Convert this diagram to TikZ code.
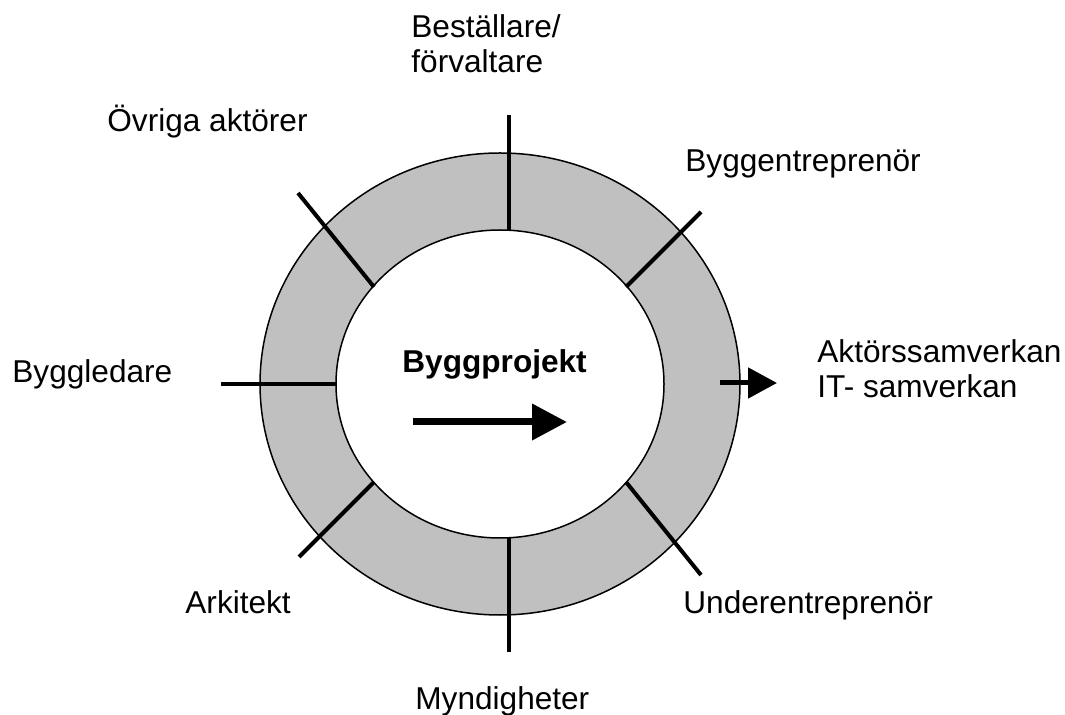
\documentclass[tikz,border=0pt]{standalone}
\usepackage{fontspec}
\setmainfont{Liberation Sans}
\usetikzlibrary{arrows.meta}
\definecolor{ringgray}{RGB}{192,192,192}
\begin{document}
\begin{tikzpicture}[x=0.5pt,y=-0.5pt,
  lbl/.style={inner sep=0pt, anchor=base west, font=\fontsize{15.8}{17.75}\selectfont, align=left},
  divider/.style={line width=2pt},
  ring/.style={fill=ringgray, draw=black, line width=0.75pt, even odd rule},
  bigarrow/.style={line width=3.5pt, -{Triangle[length=17.5pt,width=17.5pt]}},
  smallarrow/.style={line width=2.5pt, -{Triangle[length=14.5pt,width=15pt]}}]
\useasboundingbox (0,0) rectangle (1065,715);

% the ring
\draw[ring] (500,384) ellipse [x radius=240, y radius=231]
            (500,384) ellipse [x radius=164, y radius=154];

% divider end points (inner / outer)
\coordinate (tI) at (509,230);  \coordinate (tO) at (509,115);
\coordinate (bI) at (509,538);  \coordinate (bO) at (509,652);
\coordinate (lI) at (336,384);  \coordinate (lO) at (221,384);
\coordinate (ulI) at (374,287); \coordinate (ulO) at (298,193);
\coordinate (urI) at (626,287); \coordinate (urO) at (701,212);
\coordinate (llI) at (374,482); \coordinate (llO) at (299,557);
\coordinate (lrI) at (626,482); \coordinate (lrO) at (701,575);

\foreach \p in {t,b,l,ul,ur,ll,lr}
  \draw[divider] (\p I) -- (\p O);

% arrows
\coordinate (raS) at (720,383); \coordinate (raE) at (777,383);
\draw[smallarrow] (raS) -- (raE);
\coordinate (caS) at (413,422); \coordinate (caE) at (567,422);
\draw[bigarrow] (caS) -- (caE);

% labels (two-line labels are placed by the baseline of their last line)
\node[lbl] (best) at (411,73) {Beställare/\\förvaltare};
\node[lbl] (ovr)  at (107,132) {Övriga aktörer};
\node[lbl] (bent) at (685,172) {Byggentreprenör};
\node[lbl] (samv) at (817,398) {Aktörssamverkan\\IT- samverkan};
\node[lbl] (bled) at (12,383) {Byggledare};
\node[lbl, font=\fontsize{15.8}{17.75}\selectfont\bfseries] (proj) at (402,373) {Byggprojekt};
\node[lbl] (ark)  at (185,613) {Arkitekt};
\node[lbl] (uent) at (683,613) {Underentreprenör};
\node[lbl] (mynd) at (415,709) {Myndigheter};
\end{tikzpicture}
\end{document}
